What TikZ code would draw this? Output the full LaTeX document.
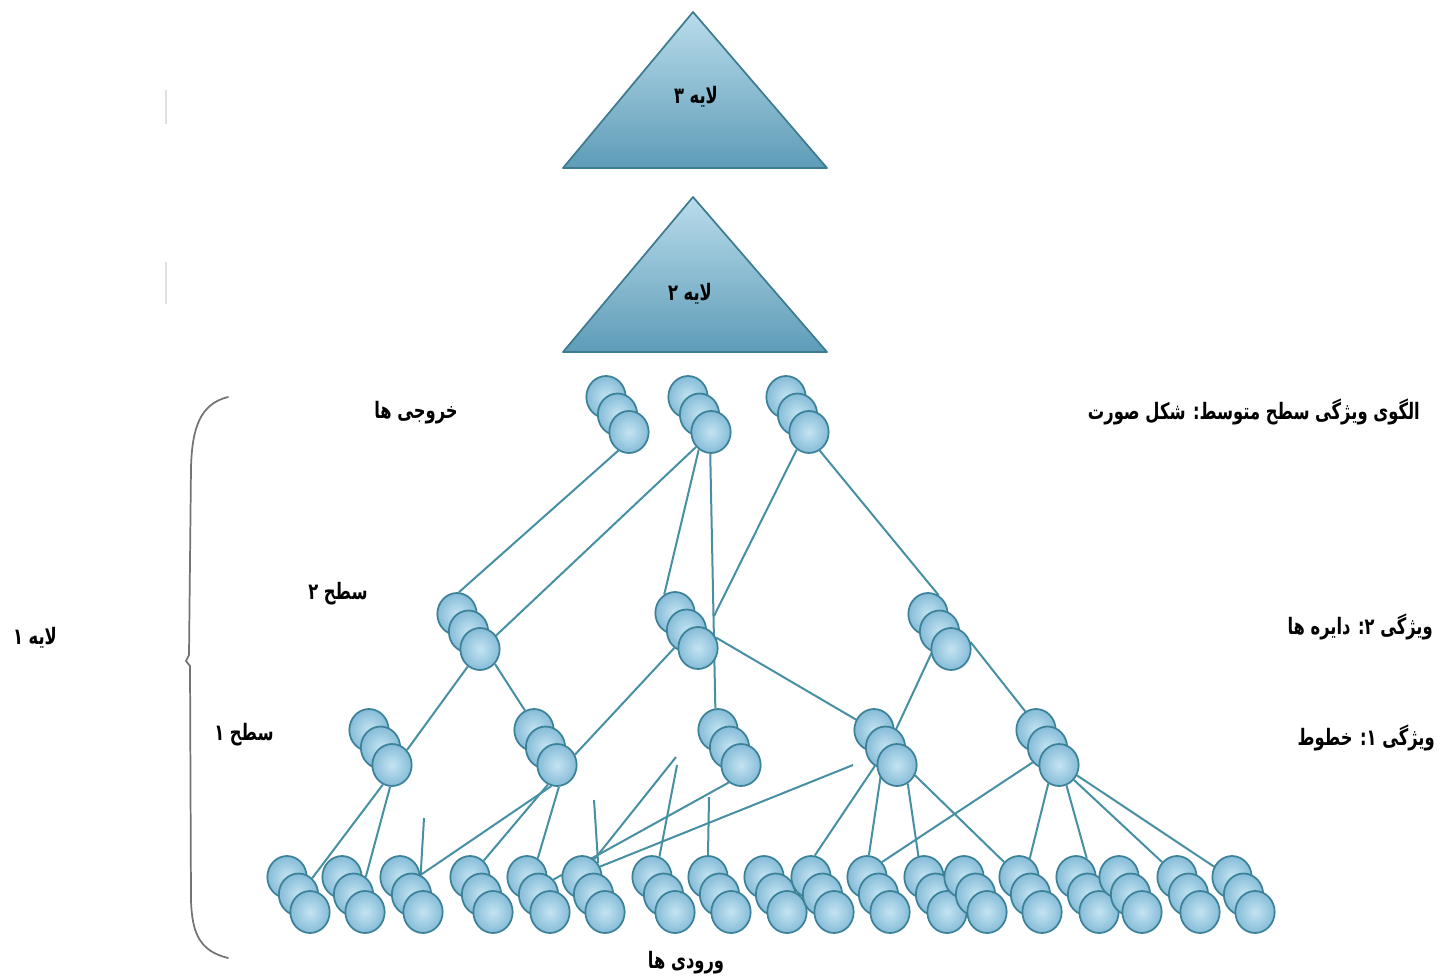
\documentclass[tikz,border=0pt]{standalone}
\usepackage{fontspec}
\usetikzlibrary{shapes.geometric}
\newfontfamily\fafont[Script=Arabic,FakeStretch=0.72]{DejaVu Sans}
\TeXXeTstate=1
\pgfdeclarelayer{wires}
\pgfsetlayers{wires,main}
\definecolor{unitedge}{HTML}{3B8299}
\definecolor{unitin}{HTML}{C4E4F2}
\definecolor{unitout}{HTML}{86BCD8}
\definecolor{wirecol}{HTML}{478FA3}
\definecolor{tritop}{HTML}{B9DCEB}
\definecolor{tribot}{HTML}{5E9CB8}
\definecolor{triedge}{HTML}{3D7B8F}
\tikzset{
  unit/.style={ellipse, draw=unitedge, line width=1.3pt, inner color=unitin, outer color=unitout,
               minimum width=29.5pt, minimum height=31.5pt, inner sep=0pt},
  wire/.style={draw=wirecol, line width=1.5pt},
  lbl/.style={font=\fafont\bfseries\fontsize{17}{19}\selectfont, inner sep=0pt},
  pyramid/.style={draw=triedge, line width=1.3pt, top color=tritop, bottom color=tribot, line join=round},
  brace/.style={draw=black!55, line width=1.3pt, line cap=round},
}
% three units of one feature map, stacked from back to front
\newcommand\featstack[3]{%
  \node[unit] (#1-a) at (#2,#3) {};
  \node[unit] (#1-b) at (#2+11.5,#3+17.5) {};
  \node[unit] (#1-c) at (#2+23,#3+35) {};
}
\newcommand\fa[1]{\beginR #1\endR}
\begin{document}
\begin{tikzpicture}[x=0.75pt,y=-0.75pt]
\useasboundingbox (0,0) rectangle (1445,978);

% upper layers
\path[pyramid] (693,12) -- (827,168) -- (563,168) -- cycle;
\node[lbl] (layer3) at (696,97) {\fa{لایه ۳}};
\path[pyramid] (693,197) -- (827,352) -- (563,352) -- cycle;
\node[lbl] (layer2) at (690,294) {\fa{لایه ۲}};

% faint marks at the far left
\draw[black!12, line width=2pt] (166,90) -- (166,124);
\draw[black!12, line width=2pt] (166,262) -- (166,304);

% brace of layer 1
\draw[brace] (228,397) .. controls (200,404) and (192,428) .. (191,468)
  -- (189,655) -- (186,661) -- (190,666) -- (191,900)
  .. controls (192,934) and (200,951) .. (228,958);

% outputs
\featstack{o1}{606}{397}
\featstack{o2}{688}{397}
\featstack{o3}{786}{397}
% level 2
\featstack{m1}{457}{614}
\featstack{m2}{675}{613}
\featstack{m3}{928}{614}
% level 1
\featstack{n1}{369}{730}
\featstack{n2}{534}{730}
\featstack{n3}{718}{730}
\featstack{n4}{874}{730}
\featstack{n5}{1036}{730}
% inputs
\foreach \k/\x in {1/287,2/342,3/400,4/470,5/527,6/582,7/652,8/708,9/764,
                   10/811,11/867,12/924,13/964,14/1019,15/1076,16/1119,17/1177,18/1232}
  {\featstack{i\k}{\x}{877}}

% loose ends of cut connections
\coordinate (s1) at (424,818);
\coordinate (s2) at (594,800);
\coordinate (s3) at (676,757);
\coordinate (s4) at (677,765);
\coordinate (s5) at (709,797);
\coordinate (s6) at (853,765);
\coordinate (j1) at (714,616);

\begin{pgfonlayer}{wires}
% outputs to level 2 / level 1
\draw[wire] (o1-c.240) -- (m1-a.85);
\draw[wire] (o2-c.225) -- (m1-c.40);
\draw[wire] (o2-c.235) -- (m2-a.120);
\draw[wire] (o2-c.268) -- (n3-a.97);
\draw[wire] (o3-c.235) -- (j1);
\draw[wire] (o3-c.300) -- (m3-a.60);
% level 2 to level 1
\draw[wire] (m1-c.235) -- (n1-c.45);
\draw[wire] (m1-c.315) -- (n2-a.115);
\draw[wire] (m2-b.235) -- (n2-c.30);
\draw[wire] (m2-c.30) -- (n4-a.150);
\draw[wire] (m3-b.250) -- (n4-b.60);
\draw[wire] (m3-c.20) -- (n5-a.120);
% level 1 to inputs
\draw[wire] (n1-c.245) -- (i1-b.50);
\draw[wire] (n1-c.265) -- (i2-b.55);
\draw[wire] (s1) -- (i3-b.65);
\draw[wire] (i3-b.65) -- (n2-c.255);
\draw[wire] (n2-c.245) -- (i4-a.50);
\draw[wire] (n2-c.275) -- (i5-a.60);
\draw[wire] (n3-c.235) -- (i5-b.45);
\draw[wire] (s2) -- (i6-a.40);
\draw[wire] (s3) -- (i6-a.55);
\draw[wire] (s4) -- (i7-a.70);
\draw[wire] (s5) -- (i8-a.90);
\draw[wire] (s6) -- (i6-a.30);
\draw[wire] (n4-b.240) -- (i10-a.80);
\draw[wire] (n4-b.260) -- (i11-a.85);
\draw[wire] (n4-c.300) -- (i12-a.105);
\draw[wire] (n4-c.330) -- (i14-a.135);
\draw[wire] (n5-b.225) -- (i11-a.45);
\draw[wire] (n5-c.240) -- (i14-a.60);
\draw[wire] (n5-c.290) -- (i15-a.60);
\draw[wire] (n5-c.315) -- (i17-a.135);
\draw[wire] (n5-c.330) -- (i18-a.150);
\end{pgfonlayer}

% labels
\node[lbl, anchor=east] (midpat) at (1420,412) {\fa{الگوی ویژگی سطح متوسط: شکل صورت}};
\node[lbl, anchor=east] (feat2) at (1433,627) {\fa{ویژگی ۲: دایره ها}};
\node[lbl, anchor=east] (feat1) at (1435,738) {\fa{ویژگی ۱: خطوط}};
\node[lbl] (outs) at (416,413) {\fa{خروجی ها}};
\node[lbl] (lev2) at (338,594) {\fa{سطح ۲}};
\node[lbl] (lev1) at (244,735) {\fa{سطح ۱}};
\node[lbl] (layer1) at (35,638) {\fa{لایه ۱}};
\node[lbl] (ins) at (686,963) {\fa{ورودی ها}};
\end{tikzpicture}
\end{document}
